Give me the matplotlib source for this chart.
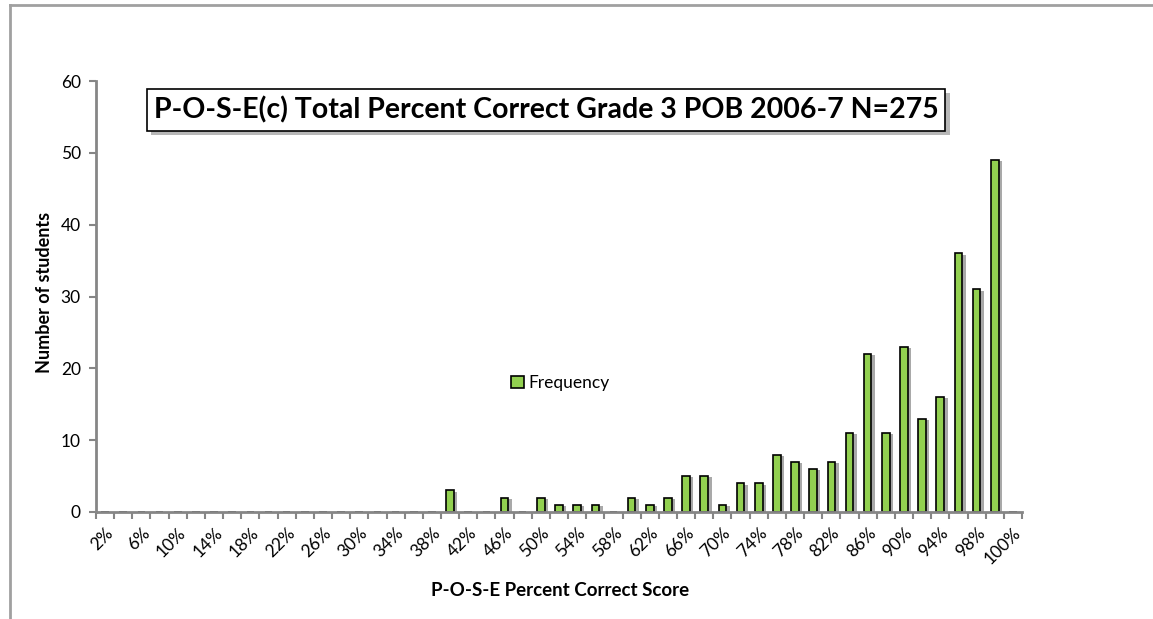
import matplotlib
matplotlib.use("Agg")
import matplotlib.pyplot as plt
import matplotlib.patheffects as pe
from matplotlib.lines import Line2D

# histogram bins (every 2%), the 50th bin holds the perfect-ish scores
bins = ["%d%%" % p for p in range(2, 100, 2)] + ["99%", "100%"]
freq = [0] * 19 + [3, 0, 0, 2, 0, 2, 1, 1, 1, 0, 2, 1, 2, 5, 5, 1, 4, 4, 8,
                   7, 6, 7, 11, 22, 11, 23, 13, 16, 36, 31, 49, 0]

W, H = 1153, 619
plt.rcParams['font.family'] = ['Lato', 'DejaVu Sans']

fig = plt.figure(figsize=(W / 100, H / 100), dpi=100)
ax = fig.add_axes([96 / W, (H - 512) / H, (1022 - 96) / W, (512 - 81) / H])

gray = "#868686"
x = list(range(len(bins)))
bars = ax.bar(x, freq, width=0.42, color="#92d050", edgecolor="black", linewidth=1.2,
              label="Frequency")
for b in bars:
    b.set_path_effects([pe.SimplePatchShadow(offset=(2.5, -1), shadow_rgbFace="#555555", alpha=0.5),
                        pe.Normal()])

ax.set_xlim(-0.5, len(bins) - 0.5)
ax.set_ylim(0, 60)
ax.set_yticks(range(0, 61, 10))
ax.set_xticks(x[::2])
ax.set_xticklabels(bins[::2], rotation=45, ha="right", va="top", rotation_mode="anchor",
                   fontsize=12.5)
ax.set_xticks([i - 0.5 for i in range(len(bins) + 1)], minor=True)
ax.tick_params(axis="x", which="major", length=0, pad=9)
ax.tick_params(axis="x", which="minor", length=5, width=1.5, color=gray)
ax.tick_params(axis="y", length=5, width=1.5, color=gray, labelsize=12.5, pad=6)
for s in ["top", "right"]:
    ax.spines[s].set_visible(False)
for s in ["left", "bottom"]:
    ax.spines[s].set_color(gray)
    ax.spines[s].set_linewidth(2)

leg = ax.legend(loc="center left", bbox_to_anchor=(495 / W, (H - 383) / H),
                bbox_transform=fig.transFigure, frameon=False, fontsize=12.5,
                handlelength=0.75, handleheight=0.75, handletextpad=0.3)
for h in leg.legend_handles:
    h.set_path_effects([])

t = fig.text(546 / W, (H - 110) / H, "P-O-S-E(c) Total Percent Correct Grade 3 POB 2006-7 N=275",
             ha="center", va="center", fontsize=20.5, fontweight="bold",
             bbox=dict(boxstyle="square,pad=0.25", facecolor="white", edgecolor="black", linewidth=1.2))
t.get_bbox_patch().set_path_effects([pe.SimplePatchShadow(offset=(3, -3), alpha=0.4), pe.Normal()])

fig.text(45 / W, (H - 292) / H, "Number of students", rotation=90, ha="center", va="center",
         fontsize=13, fontweight="bold")
fig.text(560 / W, (H - 591) / H, "P-O-S-E Percent Correct Score", ha="center", va="center",
         fontsize=13.5, fontweight="bold")

# outer chart frame (only top and left visible)
fig.add_artist(Line2D([10 / W, 1.0], [(H - 5) / H] * 2, color="#a0a0a0", linewidth=2))
fig.add_artist(Line2D([10 / W] * 2, [0, (H - 5) / H], color="#a0a0a0", linewidth=2))

fig.savefig("out.png", dpi=100)
